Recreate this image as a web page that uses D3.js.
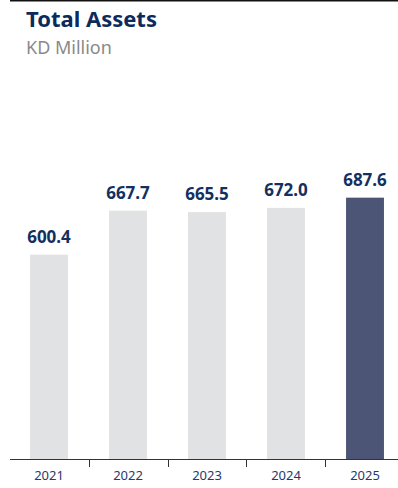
<!DOCTYPE html>
<html>
<head>
<meta charset="utf-8">
<script src="https://cdn.jsdelivr.net/npm/d3@7"></script>
<style>
  html, body { margin: 0; padding: 0; background: #fff; }
  svg { display: block; font-family: "Noto Sans", "Open Sans", sans-serif; }
</style>
</head>
<body>
<div id="chart"></div>
<script>
// Dados
const years = ['2021', '2022', '2023', '2024', '2025'];
const totalAssets = [600.4, 667.7, 665.5, 672.0, 687.6];
const highlightYear = '2025';

const width = 398;
const height = 488;
const baseY = 459;

const svg = d3.select('#chart')
  .append('svg')
  .attr('width', width)
  .attr('height', height);

// Linha superior
svg.append('line')
  .attr('x1', 10).attr('x2', width)
  .attr('y1', 0.75).attr('y2', 0.75)
  .attr('stroke', '#111')
  .attr('stroke-width', 1.5);

// Título
svg.append('text')
  .attr('x', 26).attr('y', 27)
  .attr('fill', '#0d2a5c')
  .style('font-size', '22px')
  .style('font-weight', 'bold')
  .text('Total Assets');

svg.append('text')
  .attr('x', 26).attr('y', 54)
  .attr('fill', '#8a8a8a')
  .style('font-size', '18px')
  .text('KD Million');

// Escalas
const x = d3.scaleBand()
  .domain(years)
  .range([9.5, 9.5 + 5 * 79])
  .paddingInner(0.52)
  .paddingOuter(0.26);

const y = d3.scaleLinear()
  .domain([288, 690])
  .range([baseY, baseY - 0.654 * 402]);

const data = years.map((yr, i) => ({ year: yr, value: totalAssets[i] }));

// Barras
svg.selectAll('.bar')
  .data(data)
  .enter()
  .append('rect')
  .attr('class', 'bar')
  .attr('x', d => x(d.year))
  .attr('width', x.bandwidth())
  .attr('y', d => y(d.value))
  .attr('height', d => baseY - y(d.value))
  .attr('fill', d => d.year === highlightYear ? '#4d5577' : '#e1e2e4');

// Rótulos de valor
svg.selectAll('.value')
  .data(data)
  .enter()
  .append('text')
  .attr('class', 'value')
  .attr('x', d => x(d.year) + x.bandwidth() / 2)
  .attr('y', d => y(d.value) - 12)
  .attr('text-anchor', 'middle')
  .attr('fill', '#13305f')
  .style('font-size', '17px')
  .style('font-weight', 'bold')
  .text(d => d.value.toFixed(1));

// Eixo X
svg.append('line')
  .attr('x1', 10).attr('x2', width)
  .attr('y1', baseY + 0.5).attr('y2', baseY + 0.5)
  .attr('stroke', '#333')
  .attr('stroke-width', 1);

const start = x.range()[0];
svg.selectAll('.tick')
  .data(years.slice(1))
  .enter()
  .append('line')
  .attr('class', 'tick')
  .attr('x1', d => Math.round(x(d) - x.step() * x.paddingInner() / 2) + 0.5)
  .attr('x2', d => Math.round(x(d) - x.step() * x.paddingInner() / 2) + 0.5)
  .attr('y1', baseY)
  .attr('y2', baseY + 8)
  .attr('stroke', '#333')
  .attr('stroke-width', 1);

svg.selectAll('.year')
  .data(years)
  .enter()
  .append('text')
  .attr('class', 'year')
  .attr('x', d => x(d) + x.bandwidth() / 2)
  .attr('y', 480)
  .attr('text-anchor', 'middle')
  .attr('fill', '#1f3a6e')
  .style('font-size', '13px')
  .text(d => d);
</script>
</body>
</html>
